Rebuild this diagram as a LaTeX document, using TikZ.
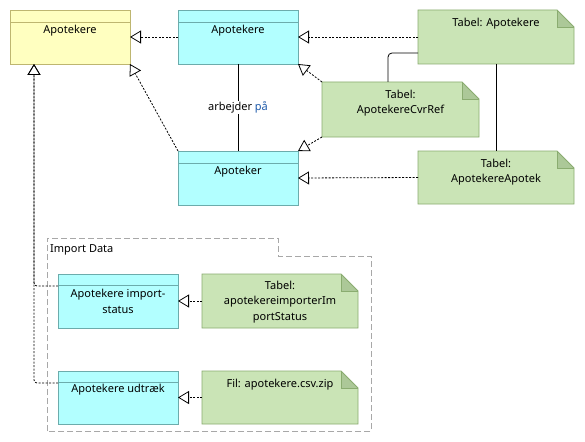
\documentclass[tikz,border=0pt]{standalone}
\usepackage{fontspec}
\setmainfont{Noto Sans}
\usetikzlibrary{arrows.meta,calc}
\definecolor{ylfill}{RGB}{255,255,192}
\definecolor{yldraw}{RGB}{190,182,112}
\definecolor{cyfill}{RGB}{178,255,255}
\definecolor{cydraw}{RGB}{108,172,172}
\definecolor{grfill}{RGB}{202,228,182}
\definecolor{grdraw}{RGB}{138,172,112}
\definecolor{grfold}{RGB}{172,200,152}
\definecolor{pkgcol}{RGB}{168,168,168}
\definecolor{lblblue}{RGB}{30,90,170}
\tikzset{
  box/.style={rectangle, anchor=north west, inner sep=0pt, outer sep=0pt, minimum width=#1},
  ylbox/.style={box=120pt, draw=yldraw, fill=ylfill, line width=0.8pt},
  cybox/.style={box=120pt, draw=cydraw, fill=cyfill, line width=0.8pt},
  grbox/.style={box=156pt, draw=none},
  txt/.style={font=\fontsize{11}{15.5}\selectfont, inner sep=0pt, align=center, anchor=north},
  dep/.style={line width=0.8pt, dash pattern=on 2pt off 1.5pt,
    -{Triangle[open, length=11pt, width=13pt, line width=0.8pt]}},
  solid line/.style={line width=0.8pt},
}
\newcommand\notedraw[1]{%
  \fill[grfill] (#1.north west) -- ($(#1.north east)+(-17,0)$) -- ($(#1.north east)+(0,17)$) -- (#1.south east) -- (#1.south west) -- cycle;
  \fill[grfold] ($(#1.north east)+(-17,0)$) -- ($(#1.north east)+(-17,17)$) -- ($(#1.north east)+(0,17)$) -- cycle;
  \draw[grdraw, line width=0.8pt] (#1.north west) -- ($(#1.north east)+(-17,0)$) -- ($(#1.north east)+(0,17)$) -- (#1.south east) -- (#1.south west) -- cycle;
  \draw[grdraw, line width=0.8pt] ($(#1.north east)+(-17,0)$) -- ($(#1.north east)+(-17,17)$) -- ($(#1.north east)+(0,17)$);
}
\newcommand\hdr[2]{\draw[cydraw, line width=0.8pt] ($(#1.north west)+(0,#2)$) -- ($(#1.north east)+(0,#2)$);}
\begin{document}
\begin{tikzpicture}[x=1pt, y=-1pt]
\useasboundingbox[fill=white] (0,0) rectangle (585,441);

% package
\draw[pkgcol, line width=0.8pt, dash pattern=on 6pt off 3pt]
  (47,431) -- (47,238) -- (278,238) -- (278,256) -- (371,256) -- (371,431) -- cycle;
\node[font=\fontsize{11}{13}\selectfont, anchor=base west, inner sep=0pt] (pkglbl) at (50,252) {Import Data};

% class boxes
\node[ylbox, minimum height=54pt] (yl) at (10,10) {};
\draw[yldraw, line width=0.8pt] ($(yl.north west)+(0,12)$) -- ($(yl.north east)+(0,12)$);
\node[txt] (yltxt) at ($(yl.north)+(0,14.6)$) {Apotekere};

\node[cybox, minimum height=54pt] (cyA) at (178,10) {};
\hdr{cyA}{12}
\node[txt] (cyAtxt) at ($(cyA.north)+(0,14.6)$) {Apotekere};

\node[cybox, minimum height=54pt] (ap) at (178,151) {};
\hdr{ap}{12}
\node[txt] (aptxt) at ($(ap.north)+(0,14.6)$) {Apoteker};

\node[cybox, minimum height=54pt] (is) at (58,274) {};
\hdr{is}{11}
\node[txt] (istxt) at ($(is.north)+(0,15)$) {Apotekere import-\\status};

\node[cybox, minimum height=53pt] (ud) at (58,371) {};
\hdr{ud}{11}
\node[txt] (udtxt) at ($(ud.north)+(0,13)$) {Apotekere udtræk};

% notes
\node[grbox, minimum height=54pt] (tA) at (418,10) {};
\notedraw{tA}
\node[txt] (tAtxt) at ($(tA.north)+(0,7.6)$) {Tabel: Apotekere};

\node[grbox, minimum height=55pt, minimum width=157pt] (cvr) at (322,82) {};
\notedraw{cvr}
\node[txt] (cvrtxt) at ($(cvr.north)+(0,7.6)$) {Tabel:\\ApotekereCvrRef};

\node[grbox, minimum height=53pt] (tAA) at (418,151) {};
\notedraw{tAA}
\node[txt] (tAAtxt) at ($(tAA.north)+(0,7.6)$) {Tabel:\\ApotekereApotek};

\node[grbox, minimum height=54pt] (gi) at (202,274) {};
\notedraw{gi}
\node[txt] (gitxt) at ($(gi.north)+(0,6.6)$) {Tabel:\\apotekereimporterIm\\portStatus};

\node[grbox, minimum height=53pt] (fil) at (202,371) {};
\notedraw{fil}
\node[txt] (filtxt) at ($(fil.north)+(0,7.6)$) {Fil: apotekere.csv.zip};

% connectors
\draw[dep] (cyA.west) -- (yl.east);
\draw[dep] (tA.west) -- (cyA.east);
\draw[dep] (ap.north west) -- (yl.south east);
\draw[dep] (cvr.north west) -- (cyA.south east);
\draw[dep] (cvr.south west) -- (ap.north east);
\draw[dep] (tAA.west) -- (ap.east);
\draw[dep] (gi.west) -- (is.east);
\draw[dep] (fil.west) -- (ud.east);
\draw[dep, rounded corners=3pt] ($(is.north west)+(0,12)$) -| ($(yl.south west)+(24,0)$);
\draw[dep, rounded corners=3pt] ($(ud.north west)+(0,12)$) -| ($(yl.south west)+(24,0)$);

\draw[solid line] (cyA.south) -- node[fill=white, inner sep=1pt, font=\fontsize{11}{13}\selectfont] (assoc) {arbejder \textcolor{lblblue}{på}} (ap.north);
\draw[solid line, rounded corners=4pt] ($(tA.south west)+(0,-11)$) -| ($(cvr.north west)+(66,0)$);
\draw[solid line] (tA.south) -- (tAA.north);
\end{tikzpicture}
\end{document}
